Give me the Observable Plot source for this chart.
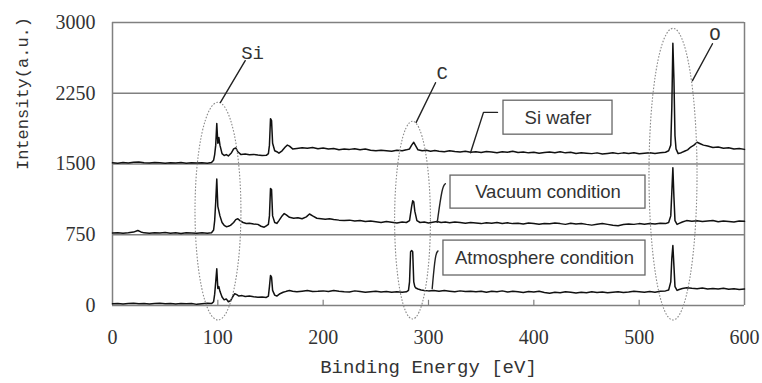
<!DOCTYPE html>
<html><head><meta charset="utf-8">
<script src="https://cdn.jsdelivr.net/npm/d3@7"></script>
<script src="https://cdn.jsdelivr.net/npm/@observablehq/plot@0.6"></script>
<style>body{margin:0;background:#fff} svg{display:block}</style>
</head><body><div id="chart"></div>
<script>
// [binding energy (eV), intensity (a.u.)]
const siWafer = [[0,1512],[5,1508],[10,1515],[15,1510],[20,1518],[25,1522],[30,1514],[35,1510],[40,1516],[45,1512],[50,1509],[55,1514],[60,1511],[65,1515],[70,1508],[75,1513],[80,1510],[85,1512],[90,1508],[94,1515],[96,1540],[97,1600],[98,1700],[99,1930],[100,1720],[101,1780],[102,1700],[104,1610],[106,1590],[108,1600],[110,1585],[113,1620],[115,1660],[117,1670],[119,1630],[122,1600],[126,1605],[130,1598],[134,1602],[138,1595],[142,1590],[146,1592],[148,1610],[149,1700],[150,1980],[151,1960],[152,1720],[154,1640],[156,1630],[158,1615],[161,1640],[164,1680],[166,1700],[168,1690],[171,1660],[175,1665],[180,1672],[185,1668],[190,1675],[195,1662],[200,1670],[205,1660],[210,1664],[215,1650],[220,1658],[225,1655],[230,1662],[235,1650],[240,1660],[245,1645],[250,1640],[255,1645],[260,1640],[265,1635],[270,1645],[275,1640],[279,1650],[282,1660],[284,1700],[286,1730],[288,1690],[290,1650],[294,1640],[298,1645],[302,1635],[306,1642],[310,1636],[315,1630],[320,1640],[325,1632],[330,1628],[335,1636],[340,1625],[345,1630],[350,1622],[355,1632],[360,1628],[365,1620],[370,1630],[375,1625],[380,1635],[385,1622],[390,1628],[395,1618],[400,1625],[405,1615],[410,1622],[415,1628],[420,1620],[425,1630],[430,1618],[435,1625],[440,1612],[445,1620],[450,1615],[455,1610],[460,1618],[465,1605],[470,1612],[475,1620],[480,1610],[485,1618],[490,1612],[495,1620],[500,1608],[505,1615],[510,1620],[515,1612],[520,1618],[525,1625],[528,1640],[530,1700],[531,2100],[532,2780],[533,2400],[534,1800],[535,1660],[537,1610],[540,1620],[543,1635],[546,1650],[549,1680],[552,1700],[555,1730],[558,1715],[561,1700],[565,1690],[570,1675],[575,1680],[580,1668],[585,1672],[590,1660],[595,1665],[600,1655]];
const vacuum = [[0,768],[5,772],[10,765],[15,770],[20,778],[24,795],[27,780],[30,770],[35,766],[40,772],[45,768],[50,774],[55,766],[60,770],[65,764],[70,772],[75,768],[80,765],[85,770],[90,767],[94,772],[96,800],[97,900],[98,1100],[99,1340],[100,1050],[101,1000],[102,950],[104,880],[106,850],[108,835],[110,840],[112,850],[115,880],[117,910],[119,920],[121,900],[124,880],[127,870],[130,872],[134,865],[138,860],[141,840],[144,830],[146,845],[148,860],[149,950],[150,1240],[151,1230],[152,950],[154,880],[156,870],[158,900],[161,950],[163,975],[165,960],[168,935],[172,925],[176,930],[180,920],[184,940],[187,970],[190,950],[194,925],[198,920],[202,915],[206,920],[210,912],[215,905],[220,900],[225,905],[230,895],[235,900],[240,890],[245,895],[250,888],[255,880],[260,890],[265,882],[270,875],[275,885],[279,880],[282,900],[284,1050],[285,1110],[286,1100],[287,1000],[289,900],[292,880],[296,885],[300,875],[304,882],[308,890],[312,880],[316,885],[320,878],[325,885],[330,880],[335,872],[340,880],[345,875],[350,868],[355,878],[360,872],[365,880],[370,870],[375,876],[380,868],[385,872],[390,865],[395,875],[400,870],[405,862],[410,870],[415,866],[420,874],[425,868],[430,860],[435,872],[440,865],[445,870],[450,860],[455,852],[460,862],[465,870],[470,860],[475,850],[480,845],[485,858],[490,865],[495,860],[500,868],[505,862],[510,870],[515,864],[520,872],[525,868],[528,880],[530,950],[531,1200],[532,1460],[533,1150],[534,900],[536,860],[538,870],[541,885],[545,900],[550,892],[555,898],[560,890],[565,895],[570,900],[575,888],[580,895],[585,890],[590,885],[595,895],[600,892]];
const atmosphere = [[0,18],[5,22],[10,15],[15,20],[20,25],[25,18],[30,22],[35,16],[40,20],[45,24],[50,18],[55,22],[60,15],[65,20],[70,18],[75,22],[80,12],[85,18],[90,25],[94,20],[96,40],[97,120],[98,250],[99,390],[100,180],[101,200],[102,150],[104,90],[106,60],[108,70],[110,40],[112,50],[114,90],[116,125],[118,115],[120,100],[123,105],[126,95],[130,100],[134,92],[138,88],[142,90],[146,85],[148,100],[149,200],[150,318],[151,300],[152,160],[154,110],[156,100],[159,125],[162,140],[165,150],[168,158],[171,150],[175,145],[180,152],[185,160],[190,148],[195,150],[200,155],[205,148],[210,158],[215,150],[220,145],[225,142],[230,155],[235,148],[240,140],[245,145],[250,150],[255,142],[260,148],[265,140],[270,145],[275,140],[279,145],[281,160],[282,250],[283,570],[284,582],[285,570],[286,250],[287,200],[288,185],[290,175],[293,165],[296,160],[300,155],[305,160],[310,150],[315,158],[320,152],[325,145],[330,155],[335,148],[340,150],[345,145],[350,152],[355,140],[360,150],[365,146],[370,155],[375,142],[380,150],[385,145],[390,138],[395,148],[400,142],[405,150],[410,138],[415,130],[420,140],[425,135],[430,145],[435,140],[440,132],[445,140],[450,135],[455,145],[460,138],[465,142],[470,135],[475,140],[480,145],[485,138],[490,142],[495,150],[500,145],[505,140],[510,148],[515,140],[520,150],[525,155],[528,165],[530,250],[531,500],[532,635],[533,420],[534,200],[536,160],[538,170],[541,180],[545,188],[550,182],[555,178],[560,185],[565,175],[570,180],[575,176],[580,182],[585,172],[590,178],[595,170],[600,175]];

const xTicks = [0, 100, 200, 300, 400, 500, 600];
const yTicks = [0, 750, 1500, 2250, 3000];

// annotations (data units)
const peakLabels = ["Si", "C", "O"];
const peakLabelX = [133, 313, 572];
const peakLabelY = [2680, 2467, 2880];
const peakLeaders = [
  [[126, 2595], [102.5, 2153]],
  [[306.7, 2362], [288.3, 1941]],
  [[569.6, 2775], [550.6, 2383]]
];
// ellipse: center x, center y, radius x (eV), radius y (a.u.)
const ellipseCx = [100.6, 285.3, 532.6];
const ellipseCy = [995, 900, 1387];
const ellipseRx = [21.8, 17, 22.8];
const ellipseRy = [1154, 1048, 1546];

const boxLabels = ["Si wafer", "Vacuum condition", "Atmosphere condition"];
const boxX1 = [371.2, 320.9, 314.2];
const boxX2 = [474.7, 506.0, 506.0];
const boxY1 = [1811, 1027, 318];
const boxY2 = [2171, 1377, 688];
const boxLeaders = [
  [[365.5, 2047], [352.2, 2047], [339.9, 1620]],
  [[316, 1290], [313, 1262], [308.3, 882]],
  [[309, 578], [306.5, 552], [303.5, 178]]
];

const rows = a => a.map(([x, y]) => ({x, y}));
const boxes = boxLabels.map((t, i) => ({t, x1: boxX1[i], x2: boxX2[i], y1: boxY1[i], y2: boxY2[i]}));
const peaks = peakLabels.map((t, i) => ({t, x: peakLabelX[i], y: peakLabelY[i]}));

function ellipses(index, scales) {
  const g = d3.create("svg:g");
  ellipseCx.forEach((cx, i) => {
    const px = scales.x(cx), py = scales.y(ellipseCy[i]);
    const rx = scales.x(cx + ellipseRx[i]) - px;
    const ry = py - scales.y(ellipseCy[i] + ellipseRy[i]);
    g.append("ellipse").attr("cx", px).attr("cy", py).attr("rx", rx).attr("ry", ry)
      .attr("fill", "none").attr("stroke", "#8a8a8a").attr("stroke-width", 1.1)
      .attr("stroke-dasharray", "1.6,1.6");
  });
  return g.node();
}

const lineStyle = {x: "x", y: "y", stroke: "#111", strokeWidth: 1.5, strokeLinejoin: "round"};

const chart = Plot.plot({
  width: 762, height: 383,
  marginLeft: 112, marginRight: 18, marginTop: 22, marginBottom: 78,
  x: {domain: [0, 600]},
  y: {domain: [0, 3000]},
  style: {background: "white", color: "#333"},
  marks: [
    Plot.ruleY(yTicks, {stroke: "#808080", strokeWidth: 1.5}),
    Plot.ruleX([0, 600], {stroke: "#808080", strokeWidth: 1.5}),
    Plot.ruleX([100, 200, 300, 400, 500], {y1: 0, y2: 55, stroke: "#808080", strokeWidth: 1.2}),
    Plot.axisX({ticks: xTicks, tickSize: 0, tickPadding: 24, tickFormat: d => String(d), label: null, fontSize: 20, fontFamily: "Liberation Serif", fill: "#333"}),
    Plot.axisY({ticks: yTicks, tickSize: 0, tickPadding: 17, tickFormat: d => String(d), label: null, fontSize: 20, fontFamily: "Liberation Serif", fill: "#333"}),
    Plot.line(rows(siWafer), lineStyle),
    Plot.line(rows(vacuum), lineStyle),
    Plot.line(rows(atmosphere), lineStyle),
    ellipses,
    ...peakLeaders.map(l => Plot.line(rows(l), {x: "x", y: "y", stroke: "#222", strokeWidth: 1.4})),
    Plot.line(rows(boxLeaders[0]), {x: "x", y: "y", stroke: "#222", strokeWidth: 1.4}),
    ...boxLeaders.slice(1).map(l => Plot.line(rows(l), {x: "x", y: "y", stroke: "#222", strokeWidth: 1.4, curve: "basis"})),
    Plot.text(peaks, {x: "x", y: "y", text: "t", fontFamily: "Liberation Mono", fontSize: 19, fill: "#333"}),
    Plot.rect(boxes, {x1: "x1", x2: "x2", y1: "y1", y2: "y2", fill: "white", stroke: "#666", strokeWidth: 1.3}),
    Plot.text(boxes, {x: d => (d.x1 + d.x2) / 2, y: d => (d.y1 + d.y2) / 2, text: "t", fontFamily: "Liberation Sans", fontSize: 18.5, fill: "#333"}),
    Plot.text(["Binding Energy [eV]"], {frameAnchor: "bottom", dy: 67, fontFamily: "Liberation Mono", fontSize: 19, fill: "#333"}),
    Plot.text(["Intensity(a.u.)"], {frameAnchor: "left", dx: -90, dy: 6, rotate: -90, fontFamily: "Liberation Mono", fontSize: 17, fill: "#333"})
  ]
});
document.getElementById("chart").append(chart);
</script>
</body></html>
